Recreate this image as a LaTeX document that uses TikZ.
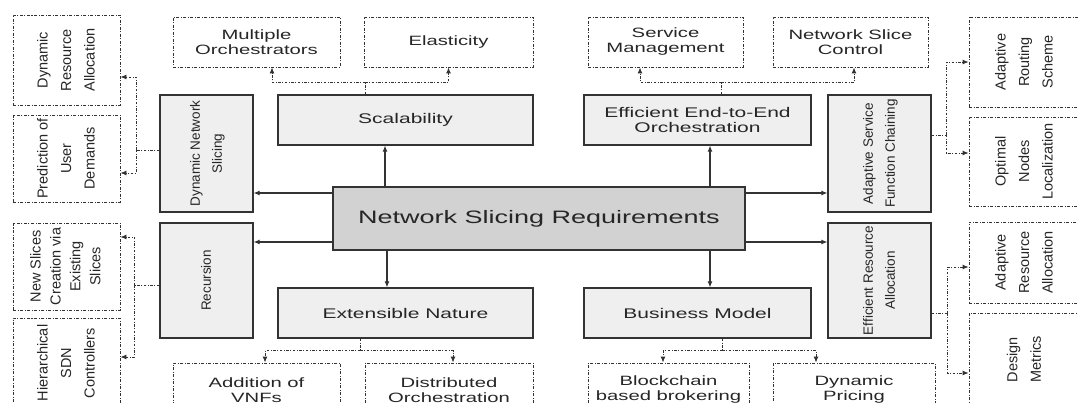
\documentclass[tikz,border=0pt]{standalone}
\usepackage{fontspec}
\setmainfont{Liberation Sans}
\newfontfamily\widefont{Liberation Sans}[FakeStretch=1.5]
\usepackage{tikz}
\usetikzlibrary{arrows,arrows.meta}
\definecolor{boxline}{HTML}{333333}
\definecolor{boxfill}{HTML}{EFEFEF}
\definecolor{corefill}{HTML}{D2D2D2}
\definecolor{inktext}{HTML}{262626}
\newcommand{\sidetext}[1]{\rotatebox{90}{\begin{tabular}{@{}c@{}}#1\end{tabular}}}

\begin{document}
\begin{tikzpicture}[x=1pt,y=-1pt,
    reqbox/.style={draw=boxline,line width=1.2pt,fill=boxfill,inner sep=0pt,text=inktext,align=center,font=\widefont\fontsize{14}{15}\selectfont},
    corebox/.style={reqbox,fill=corefill,font=\widefont\fontsize{18}{20}\selectfont},
    vreqbox/.style={reqbox,font=\normalfont\fontsize{13.5}{22}\selectfont},
    subbox/.style={draw=boxline,line width=0.9pt,dash pattern=on 3pt off 1.5pt on 1pt off 1.5pt,inner sep=0pt,text=inktext,align=center,font=\widefont\fontsize{13.5}{15}\selectfont},
    vsubbox/.style={subbox,font=\normalfont\fontsize{14.5}{23.5}\selectfont},
    link/.style={draw=boxline,line width=1.1pt,-{Latex[length=6pt,width=5pt]}},
    sublink/.style={draw=boxline,line width=0.9pt,dash pattern=on 2.5pt off 1.5pt on 1pt off 1.5pt},
    subarrow/.style={sublink,-{Latex[length=6pt,width=5pt]}}]
    \useasboundingbox (0,0) rectangle (1078,403);
    \clip (0,0) rectangle (1078,403);
    % requirements
    \node[corebox,minimum width=412pt,minimum height=63pt] (nsr) at (539,218.5) {Network Slicing Requirements};
    \node[reqbox,minimum width=255pt,minimum height=50pt] (scal) at (405.5,120) {Scalability};
    \node[reqbox,minimum width=227pt,minimum height=50pt] (eteo) at (697.5,120) {Efficient End-to-End\\Orchestration};
    \node[reqbox,minimum width=255pt,minimum height=50pt] (extn) at (405.5,313) {Extensible Nature};
    \node[reqbox,minimum width=227pt,minimum height=50pt] (busm) at (697.5,313) {Business Model};
    \node[vreqbox,minimum width=93pt,minimum height=117pt] (dns) at (206.5,153.5) {\sidetext{Dynamic Network\\Slicing}};
    \node[vreqbox,minimum width=93pt,minimum height=115pt] (recu) at (206.5,280.5) {\sidetext{Recursion}};
    \node[vreqbox,minimum width=103pt,minimum height=117pt] (asfc) at (879.5,153.5) {\sidetext{Adaptive Service\\Function Chaining}};
    \node[vreqbox,minimum width=103pt,minimum height=115pt] (effra) at (879.5,280.5) {\sidetext{Efficient Resource\\Allocation}};
    % top and bottom solutions
    \node[subbox,minimum width=167pt,minimum height=50pt] (morch) at (256.5,42) {Multiple\\Orchestrators};
    \node[subbox,minimum width=169pt,minimum height=50pt] (elas) at (448.5,42) {Elasticity};
    \node[subbox,minimum width=155pt,minimum height=50pt] (smgmt) at (665.5,42) {Service\\Management};
    \node[subbox,minimum width=155pt,minimum height=50pt] (nsctl) at (850.5,42) {Network Slice\\Control};
    \node[subbox,minimum width=167pt,minimum height=54pt] (avnf) at (256.5,390) {Addition of\\VNFs};
    \node[subbox,minimum width=168pt,minimum height=54pt] (dorch) at (449,390) {Distributed\\Orchestration};
    \node[subbox,minimum width=161pt,minimum height=54pt] (bcbb) at (668.5,390) {Blockchain\\based brokering};
    \node[subbox,minimum width=162pt,minimum height=54pt] (dpric) at (854,390) {Dynamic\\Pricing};
    % side solutions
    \node[vsubbox,minimum width=107pt,minimum height=90pt] (dyra) at (66.5,60) {\sidetext{Dynamic\\Resource\\Allocation}};
    \node[vsubbox,minimum width=107pt,minimum height=87pt] (pud) at (66.5,158.5) {\sidetext{Prediction of\\User\\Demands}};
    \node[vsubbox,minimum width=107pt,minimum height=87pt,font=\normalfont\fontsize{14.5}{20}\selectfont] (nsv) at (66.5,266.5) {\sidetext{New Slices\\Creation via\\Existing\\Slices}};
    \node[vsubbox,minimum width=107pt,minimum height=90pt] (hsdn) at (66.5,363) {\sidetext{Hierarchical\\SDN\\Controllers}};
    \node[vsubbox,minimum width=111pt,minimum height=90pt] (arsc) at (1024.5,62) {\sidetext{Adaptive\\Routing\\Scheme}};
    \node[vsubbox,minimum width=111pt,minimum height=89pt] (onl) at (1024.5,161.5) {\sidetext{Optimal\\Nodes\\Localization}};
    \node[vsubbox,minimum width=111pt,minimum height=81pt] (adra) at (1024.5,262.5) {\sidetext{Adaptive\\Resource\\Allocation}};
    \node[vsubbox,minimum width=111pt,minimum height=93pt] (dmet) at (1024.5,359.5) {\sidetext{Design\\Metrics}};
    % core links
    \draw[link] ([xshift=-154pt]nsr.north) -- ([xshift=-20.5pt]scal.south);
    \draw[link] ([xshift=171pt]nsr.north) -- ([xshift=12.5pt]eteo.south);
    \draw[link] ([xshift=-152pt]nsr.south) -- ([xshift=-18.5pt]extn.north);
    \draw[link] ([xshift=171pt]nsr.south) -- ([xshift=12.5pt]busm.north);
    \draw[link] ([yshift=25.5pt]nsr.west) -- ([yshift=-39.5pt]dns.east);
    \draw[link] ([yshift=-23.5pt]nsr.west) -- ([yshift=38.5pt]recu.east);
    \draw[link] ([yshift=25.5pt]nsr.east) -- ([yshift=-39.5pt]asfc.west);
    \draw[link] ([yshift=-23.5pt]nsr.east) -- ([yshift=38.5pt]effra.west);
    % dashed trees
    \coordinate (scalj) at ([xshift=-40.5pt,yshift=12pt]scal.north);
    \draw[sublink] ([xshift=-40.5pt]scal.north) -- (scalj);
    \draw[subarrow] (scalj) -| ([xshift=15.5pt]morch.south);
    \draw[subarrow] (scalj) -| (elas.south);
    \coordinate (eteoj) at ([xshift=23.5pt,yshift=12pt]eteo.north);
    \draw[sublink] ([xshift=23.5pt]eteo.north) -- (eteoj);
    \draw[subarrow] (eteoj) -| ([xshift=-25.5pt]smgmt.south);
    \draw[subarrow] (eteoj) -| ([xshift=3.5pt]nsctl.south);
    \coordinate (extnj) at ([xshift=-45.5pt,yshift=-12pt]extn.south);
    \draw[sublink] ([xshift=-45.5pt]extn.south) -- (extnj);
    \draw[subarrow] (extnj) -| ([xshift=8.5pt]avnf.north);
    \draw[subarrow] (extnj) -| ([xshift=4pt]dorch.north);
    \coordinate (busmj) at ([xshift=24.5pt,yshift=-12pt]busm.south);
    \draw[sublink] ([xshift=24.5pt]busm.south) -- (busmj);
    \draw[subarrow] (busmj) -| ([xshift=-5.5pt]bcbb.north);
    \draw[subarrow] (busmj) -| ([xshift=-38pt]dpric.north);
    \coordinate (dnsj) at ([xshift=-23pt,yshift=3.5pt]dns.west);
    \draw[sublink] ([yshift=3.5pt]dns.west) -- (dnsj);
    \draw[subarrow] (dnsj) |- ([yshift=-17pt]dyra.east);
    \draw[subarrow] (dnsj) |- ([yshift=-14.5pt]pud.east);
    \coordinate (recuj) at ([xshift=-25pt,yshift=-4.5pt]recu.west);
    \draw[sublink] ([yshift=-4.5pt]recu.west) -- (recuj);
    \draw[subarrow] (recuj) |- ([yshift=29.5pt]nsv.east);
    \draw[subarrow] (recuj) |- ([yshift=6pt]hsdn.east);
    \coordinate (asfcj) at ([xshift=15pt,yshift=18.5pt]asfc.east);
    \draw[sublink] ([yshift=18.5pt]asfc.east) -- (asfcj);
    \draw[subarrow] (asfcj) |- (arsc.west);
    \draw[subarrow] (asfcj) |- ([yshift=8.5pt]onl.west);
    \coordinate (effraj) at ([xshift=16pt,yshift=-32.5pt]effra.east);
    \draw[sublink] ([yshift=-32.5pt]effra.east) -- (effraj);
    \draw[subarrow] (effraj) |- ([yshift=-4.5pt]adra.west);
    \draw[subarrow] (effraj) |- ([yshift=-13.5pt]dmet.west);
\end{tikzpicture}
\end{document}
